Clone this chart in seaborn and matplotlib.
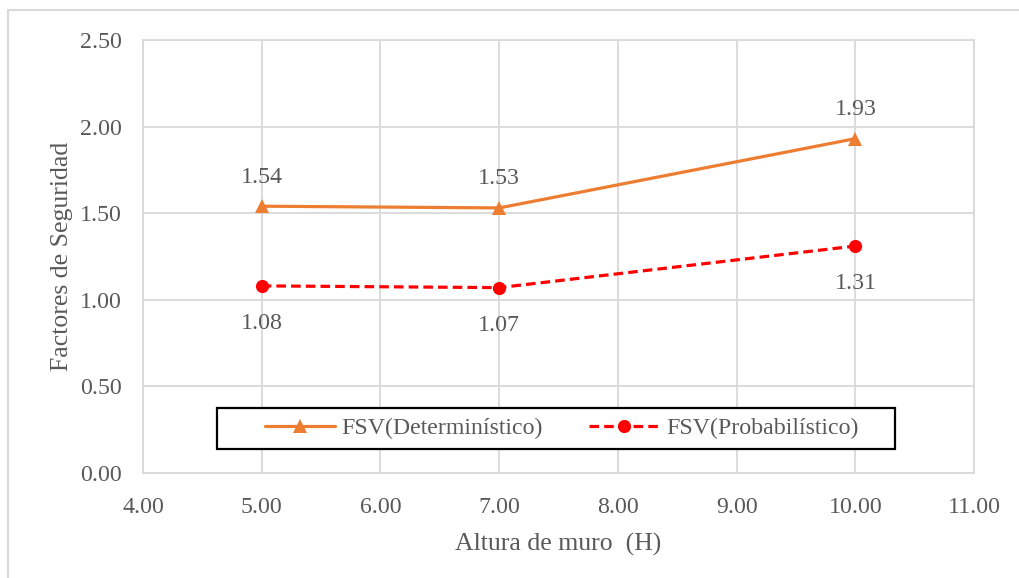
import numpy as np
import pandas as pd
import seaborn as sns
import matplotlib.pyplot as plt
from matplotlib.lines import Line2D
from matplotlib.patches import Rectangle

# Data
altura = [5.00, 7.00, 10.00]
fsv_det = [1.54, 1.53, 1.93]
fsv_prob = [1.08, 1.07, 1.31]
x_ticks = [4, 5, 6, 7, 8, 9, 10, 11]
y_ticks = [0.0, 0.5, 1.0, 1.5, 2.0, 2.5]

df = pd.DataFrame({
    "H": altura * 2,
    "FS": fsv_det + fsv_prob,
    "Serie": ["FSV(Determinístico)"] * 3 + ["FSV(Probabilístico)"] * 3,
})

sns.set_style("white")
plt.rcParams['font.family'] = ['Liberation Serif', 'DejaVu Serif']

txt = '#595959'
grid = '#d9d9d9'
fs = 17.2

fig = plt.figure(figsize=(10.19, 5.78), dpi=100)
ax = fig.add_axes([0.1403, 0.1817, 0.8157, 0.7493])

det = df[df.Serie == "FSV(Determinístico)"]
prob = df[df.Serie == "FSV(Probabilístico)"]
sns.lineplot(data=det, x="H", y="FS", ax=ax, color='#ED7D31', lw=2.3,
             marker='^', markersize=10.5, markeredgewidth=0, label="FSV(Determinístico)", zorder=3)
sns.lineplot(data=prob, x="H", y="FS", ax=ax, color='#FF0000', lw=2.3, linestyle=(0, (3, 1.6)),
             marker='o', markersize=9.5, markeredgewidth=0, label="FSV(Probabilístico)", zorder=3)

# data labels
for x, y in zip(altura, fsv_det):
    ax.annotate(f"{y:.2f}", (x, y), xytext=(0, 21), textcoords='offset points',
                ha='center', va='center', fontsize=fs, color=txt)
for x, y in zip(altura, fsv_prob):
    ax.annotate(f"{y:.2f}", (x, y), xytext=(0, -27), textcoords='offset points',
                ha='center', va='center', fontsize=fs, color=txt)

ax.set_xlim(4, 11)
ax.set_ylim(0, 2.5)
ax.set_xticks(x_ticks)
ax.set_yticks(y_ticks)
ax.set_xticklabels([f"{v:.2f}" for v in x_ticks])
ax.set_yticklabels([f"{v:.2f}" for v in y_ticks])
ax.tick_params(axis='both', length=0, labelsize=fs, labelcolor=txt)
ax.tick_params(axis='x', pad=17)
ax.tick_params(axis='y', pad=15)
ax.grid(True, color=grid, linewidth=1.3)
for s in ax.spines.values():
    s.set_color(grid)
    s.set_linewidth(1.3)

ax.set_xlabel("Altura de muro  (H)", fontsize=18.5, color=txt, labelpad=11)
ax.set_ylabel("Factores de Seguridad", fontsize=18.5, color=txt, labelpad=5)

# legend box drawn separately, legend entries placed inside it
ax.add_patch(Rectangle((0.089, 0.0555), 0.816, 0.0947, transform=ax.transAxes,
                       facecolor='white', edgecolor='black', lw=1.6, zorder=4))
leg = ax.legend(loc='center', bbox_to_anchor=(0.5036, 0.1028), ncol=2, frameon=False,
                fontsize=fs, handlelength=2.93, handletextpad=0.3, columnspacing=1.92,
                borderpad=0, borderaxespad=0)
leg.set_zorder(5)
for t in leg.get_texts():
    t.set_color(txt)

# outer chart border (left and top visible)
fig.add_artist(Line2D([0.008, 0.008], [0.0, 0.983], color='#d9d9d9', lw=1.5))
fig.add_artist(Line2D([0.008, 1.0], [0.983, 0.983], color='#d9d9d9', lw=1.5))

fig.savefig("out.png", dpi=100)
